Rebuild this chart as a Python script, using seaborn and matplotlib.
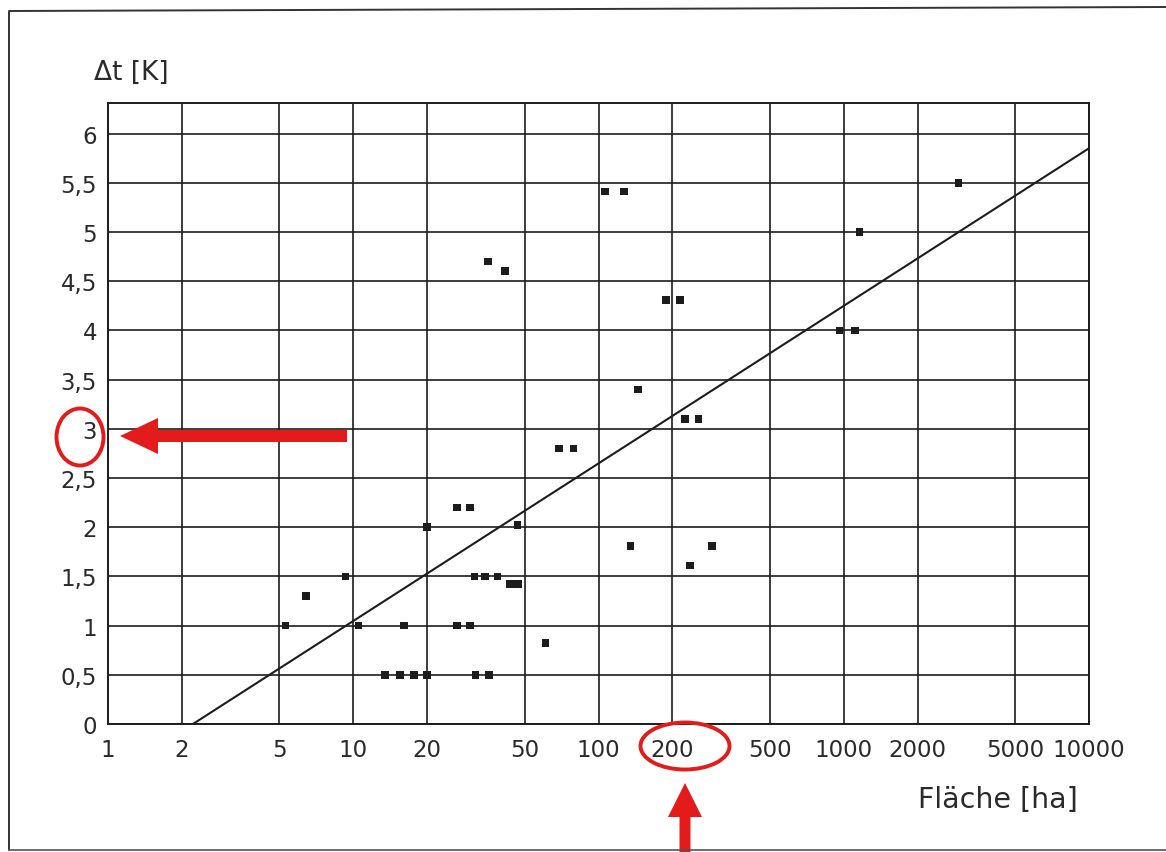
import numpy as np
import pandas as pd
import seaborn as sns
import matplotlib.pyplot as plt
from matplotlib.patches import Ellipse, FancyArrow

# measured points: area [ha] vs temperature difference [K]
flaeche = [5.3, 6.4, 9.3, 10.5, 13.5, 15.5, 17.7, 20.0, 16.1, 20.0,
           26.5, 30.0, 26.5, 30.0, 31.2, 34.5, 38.8, 43.5, 47.0,
           31.5, 35.7, 35.4, 41.5, 46.8, 60.8, 69.0, 79.0, 106, 127,
           135, 145, 188, 215, 225, 256, 236, 291, 960, 1113, 1158, 2940]
delta_t = [1.0, 1.3, 1.5, 1.0, 0.5, 0.5, 0.5, 0.5, 1.0, 2.0,
           2.2, 2.2, 1.0, 1.0, 1.5, 1.5, 1.5, 1.42, 1.42,
           0.5, 0.5, 4.7, 4.6, 2.02, 0.82, 2.8, 2.8, 5.41, 5.41,
           1.81, 3.4, 4.31, 4.31, 3.1, 3.1, 1.61, 1.81, 4.0, 4.0, 5.0, 5.5]

# regression line endpoints
trend_x = [2.22, 10000]
trend_y = [0.0, 5.85]

x_ticks = [1, 2, 5, 10, 20, 50, 100, 200, 500, 1000, 2000, 5000, 10000]
y_ticks = [0, 0.5, 1, 1.5, 2, 2.5, 3, 3.5, 4, 4.5, 5, 5.5, 6]

df = pd.DataFrame({"Fläche": flaeche, "dt": delta_t})
trend = pd.DataFrame({"x": trend_x, "y": trend_y})

sns.set_style("white")
plt.rcParams["font.family"] = ["DejaVu Sans"]

W, H = 1166, 853
fig = plt.figure(figsize=(W / 100, H / 100), dpi=100)
ax = fig.add_axes([108 / W, 1 - 725 / H, (1089 - 108) / W, (725 - 104) / H])

ink = "#1c1c1c"
sns.lineplot(data=trend, x="x", y="y", ax=ax, color=ink, lw=1.5, zorder=3)
sns.scatterplot(data=df, x="Fläche", y="dt", ax=ax, marker="s", s=30,
                color=ink, edgecolor="none", zorder=4)

ax.set_xscale("log")
ax.set_xlim(1, 10000)
ax.set_ylim(0, 6.31)
ax.set_xticks(x_ticks)
ax.set_xticklabels([str(t) for t in x_ticks])
ax.xaxis.set_minor_locator(plt.NullLocator())
ax.set_yticks(y_ticks)
ax.set_yticklabels([f"{t:g}".replace(".", ",") for t in y_ticks])
ax.tick_params(axis="x", length=0, pad=10, labelsize=16.5, colors="#2a2a2a")
ax.tick_params(axis="y", length=0, pad=8, labelsize=16.5, colors="#2a2a2a")
ax.grid(True, which="major", color=ink, lw=1.2)
ax.set_axisbelow(True)
for sp in ax.spines.values():
    sp.set_color(ink)
    sp.set_linewidth(1.4)
ax.set_xlabel("")
ax.set_ylabel("")

fig.text(94 / W, 1 - 73 / H, "Δt [K]", fontsize=19, color="#2a2a2a",
         ha="left", va="center")
fig.text(918 / W, 1 - 800 / H, "Fläche [ha]", fontsize=20.5, color="#2a2a2a",
         ha="left", va="center")

# overlay in pixel units for the page border and red markings
ov = fig.add_axes([0, 0, 1, 1], facecolor="none")
ov.set_xlim(0, W)
ov.set_ylim(H, 0)
ov.axis("off")
ov.plot([9, 9, W], [851, 12, 8], color="#333333", lw=1.4)
ov.plot([9, W], [851, 851], color="#555555", lw=1.2)

red = "#e41b1b"
ov.add_patch(Ellipse((80, 438), 47, 57, fill=False, ec=red, lw=2.8))
ov.add_patch(Ellipse((685, 747), 89, 47, fill=False, ec=red, lw=2.8))
ov.add_patch(FancyArrow(347, 437, -227, 0, width=12, head_width=36,
                        head_length=38, length_includes_head=True,
                        color=red, lw=0))
ov.add_patch(FancyArrow(685, 860, 0, -76, width=11, head_width=34,
                        head_length=34, length_includes_head=True,
                        color=red, lw=0))

fig.savefig("out.png", dpi=100)
plt.close(fig)
